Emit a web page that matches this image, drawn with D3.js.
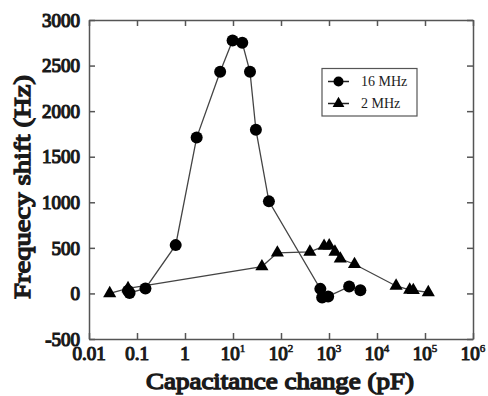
<!DOCTYPE html>
<html><head><meta charset="utf-8">
<script src="https://cdn.jsdelivr.net/npm/d3@7"></script>
<style>body{margin:0;background:#fff}svg{display:block}
text{font-family:"Liberation Serif",serif;font-weight:normal}
.b{stroke:#1a1a1a;stroke-width:1.2px;paint-order:stroke}</style>
</head><body>
<script>
// Data (x: capacitance change in pF, y: frequency shift in Hz)
const mhz16X = [0.065, 0.07, 0.15, 0.64, 1.75, 5.4, 9.8, 15.6, 22.6, 30, 56, 660, 720, 960, 2630, 4500];
const mhz16Y = [30, 5, 55, 530, 1710, 2432, 2775, 2750, 2432, 1796, 1010, 50, -45, -33, 75, 35];
const mhz2X = [0.027, 0.065, 40, 84, 400, 790, 1010, 1330, 1720, 3400, 25000, 48000, 57000, 117000];
const mhz2Y = [0, 55, 295, 446, 455, 520, 525, 455, 380, 320, 82, 38, 35, 12];
const xTicks = [0.01, 0.1, 1, 1e1, 1e2, 1e3, 1e4, 1e5, 1e6];
const yTicks = [-500, 0, 500, 1000, 1500, 2000, 2500, 3000];
const seriesNames = ["16 MHz", "2 MHz"];

const W = 488, H = 396;
const L = 89, R = 473, T = 20, B = 339;
const svg = d3.select("body").append("svg").attr("width", W).attr("height", H);
const x = d3.scaleLog().domain([0.01, 1e6]).range([L, R]);
const y = d3.scaleLinear().domain([-500, 3000]).range([B, T]);
const axisCol = "#555";

function styleAxis(g){
  g.select(".domain").attr("stroke", axisCol).attr("stroke-width", 1.5);
  g.selectAll(".tick line").attr("stroke", axisCol).attr("stroke-width", 1.5);
}
const gx = svg.append("g").attr("transform", `translate(0,${B})`)
  .call(d3.axisBottom(x).tickValues(xTicks).tickSize(-6).tickSizeOuter(0).tickFormat(""));
styleAxis(gx);
const gxt = svg.append("g").attr("transform", `translate(0,${T})`)
  .call(d3.axisTop(x).tickValues(xTicks).tickSize(-6).tickSizeOuter(0).tickFormat(""));
styleAxis(gxt);
const gy = svg.append("g").attr("transform", `translate(${L},0)`)
  .call(d3.axisLeft(y).tickValues(yTicks).tickSize(-6).tickSizeOuter(0).tickFormat(""));
styleAxis(gy);
const gyr = svg.append("g").attr("transform", `translate(${R},0)`)
  .call(d3.axisRight(y).tickValues(yTicks).tickSize(-6).tickSizeOuter(0).tickFormat(""));
styleAxis(gyr);

// y tick labels
svg.append("g").selectAll("text").data(yTicks).join("text").attr("class", "b")
  .attr("x", L - 9).attr("y", d => y(d)).attr("dy", "0.35em")
  .attr("text-anchor", "end")
  .attr("font-size", 19).attr("fill", "#1a1a1a").text(d => d);

// x tick labels
svg.append("g").selectAll("text").data(xTicks).join("text").attr("class", "b")
  .attr("x", d => x(d)).attr("y", B + 21)
  .attr("text-anchor", "middle")
  .attr("font-size", 19).attr("fill", "#1a1a1a")
  .each(function(d){
    const e = Math.round(Math.log10(d));
    const t = d3.select(this);
    if (e <= 0) { t.text(String(d)); }
    else {
      t.append("tspan").text("10");
      t.append("tspan").attr("font-size", 11).attr("dy", -8).style("stroke-width", "0.6px").text(String(e));
    }
  });

// axis titles
svg.append("text").attr("class", "b").attr("x", 280).attr("y", 389)
  .attr("text-anchor", "middle").style("stroke-width", "1.4px")
  .attr("textLength", 268).attr("lengthAdjust", "spacingAndGlyphs")
  .attr("font-size", 24).attr("fill", "#1a1a1a").text("Capacitance change (pF)");
svg.append("text").attr("class", "b").attr("transform", `translate(30,187) rotate(-90)`)
  .attr("text-anchor", "middle").style("stroke-width", "1.4px")
  .attr("textLength", 224).attr("lengthAdjust", "spacingAndGlyphs")
  .attr("font-size", 24).attr("fill", "#1a1a1a").text("Frequecy shift (Hz)");

// lines
const line = d3.line().x(d => x(d[0])).y(d => y(d[1]));
const d16 = mhz16X.map((v, i) => [v, mhz16Y[i]]);
const d2 = mhz2X.map((v, i) => [v, mhz2Y[i]]);
svg.append("path").datum(d2).attr("d", line).attr("fill", "none").attr("stroke", "#444").attr("stroke-width", 1.3);
svg.append("path").datum(d16).attr("d", line).attr("fill", "none").attr("stroke", "#444").attr("stroke-width", 1.3);

const tri = d3.symbol().type(d3.symbolTriangle).size(75);
svg.append("g").selectAll("path").data(d2).join("path")
  .attr("transform", d => `translate(${x(d[0])},${y(d[1])})`).attr("d", tri).attr("fill", "#000");
svg.append("g").selectAll("circle").data(d16).join("circle")
  .attr("cx", d => x(d[0])).attr("cy", d => y(d[1])).attr("r", 6).attr("fill", "#000");

// legend
const lg = svg.append("g");
lg.append("rect").attr("x", 322).attr("y", 68.5).attr("width", 95).attr("height", 47.5)
  .attr("fill", "#fff").attr("stroke", "#555").attr("stroke-width", 1.2);
const rows = [81.5, 103.5];
rows.forEach((ry, i) => {
  lg.append("line").attr("x1", 328).attr("x2", 349).attr("y1", ry).attr("y2", ry).attr("stroke", "#222").attr("stroke-width", 1.5);
  if (i === 0) lg.append("circle").attr("cx", 338.5).attr("cy", ry).attr("r", 5).attr("fill", "#000");
  else lg.append("path").attr("transform", `translate(338.5,${ry})`).attr("d", d3.symbol().type(d3.symbolTriangle).size(60)).attr("fill", "#000");
  lg.append("text").attr("x", 361).attr("y", ry).attr("dy", "0.35em")
    .attr("font-size", 14).attr("fill", "#222").text(seriesNames[i]);
});
</script>
</body></html>
